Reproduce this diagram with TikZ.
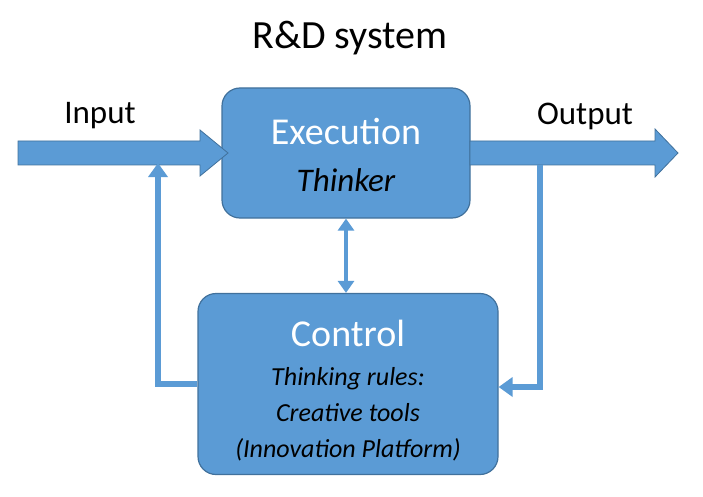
\documentclass[tikz,border=0pt]{standalone}
\usepackage{fontspec}
\setmainfont{Carlito}
\usetikzlibrary{arrows.meta}
\definecolor{fillb}{HTML}{5B9BD5}
\definecolor{edgeb}{HTML}{41719C}
\begin{document}
\begin{tikzpicture}[x=1pt,y=-1pt,
  box/.style={draw=edgeb,line width=1.2pt,fill=fillb,rounded corners=18pt,text=white,align=center,inner sep=0pt},
  blk/.style={fill=fillb,draw=edgeb,line width=0.8pt},
  thin/.style={draw=fillb,line width=5.5pt,-{Triangle[length=14pt,width=19pt]}},
  lbl/.style={font=\fontsize{33}{36}\selectfont}]
\useasboundingbox (0,0) rectangle (703,497);
\node[font=\fontsize{40}{42}\selectfont] (title) at (350,38) {R\&D system};
\node[box,minimum width=248pt,minimum height=130pt] (exe) at (346,153) {};
\node[text=white,font=\fontsize{38}{40}\selectfont] (exet) at (346,132) {Execution};
\node[text=black,font=\fontsize{33}{36}\selectfont\itshape] (exes) at (346,180) {Thinker};
\node[box,minimum width=300pt,minimum height=181pt] (ctl) at (348,384) {};
\node[text=white,font=\fontsize{38}{40}\selectfont] (ctlt) at (348,333) {Control};
\node[text=black,align=center,font=\fontsize{26}{36}\selectfont\itshape] (ctls) at (348,414) {Thinking rules:\\Creative tools\\(Innovation Platform)};
\node[lbl] (in) at (100,116) {Input};
\node[lbl] (out) at (585,116) {Output};
\draw[blk] (18,141) -- (200,141) -- (200,130) -- (228,153) -- (200,176) -- (200,165) -- (18,165) -- cycle;
\draw[blk] (470,141) -- (655,141) -- (655,129) -- (678,153) -- (655,177) -- (655,165) -- (470,165) -- cycle;
\coordinate (o1) at (540,165);
\coordinate (o2) at (540,387);
\coordinate (c1) at (ctl.west |- 0,384);
\coordinate (i1) at (158,384);
\coordinate (i2) at (158,163);
\draw[thin] (o1) -- (o2) -- (ctl.east |- o2);
\draw[thin,line join=miter] (c1) -- (i1) -- (i2);
\draw[draw=fillb,line width=4.5pt,{Triangle[length=12pt,width=16pt]}-{Triangle[length=12pt,width=16pt]}] (exe.south) -- (exe.south |- ctl.north);
\end{tikzpicture}
\end{document}
